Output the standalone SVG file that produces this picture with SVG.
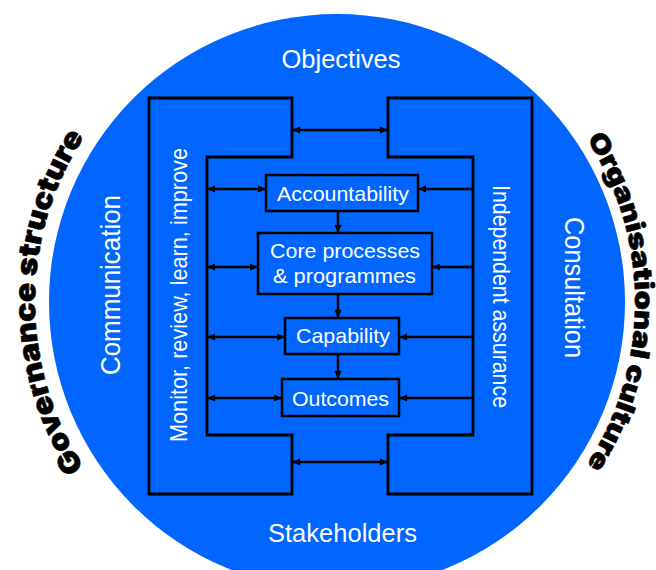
<svg xmlns="http://www.w3.org/2000/svg" width="656" height="570" viewBox="0 0 656 570">
<style>
.lbl{font-family:"Liberation Sans",Arial,sans-serif;fill:#ffffff;}
.box{fill:#0066ff;stroke:#000;stroke-width:2.5;}
.frame{fill:none;stroke:#000;stroke-width:2.8;stroke-linejoin:miter;}
.con{fill:none;stroke:#000;stroke-width:2.5;}
.arc{font-family:"Inter","Lato","Liberation Sans",sans-serif;font-weight:900;font-size:29px;fill:#000;stroke:#000;stroke-width:0.6;}
</style>
<defs>
<marker id="ah" viewBox="0 0 10 10" refX="10" refY="5" markerWidth="9" markerHeight="8" markerUnits="userSpaceOnUse" orient="auto-start-reverse">
<path d="M0,0.5 L10,5 L0,9.5 z" fill="#000"/>
</marker>
<path id="arcL" d="M186 563.5 A302 302 0 0 1 186 40.5"/>
<path id="arcR" d="M486 43.9 A298 298 0 0 1 486 560.1"/>
</defs>
<g id="background">
<circle cx="337" cy="302" r="288" fill="#0066ff"/>
</g>
<g id="governance-structure">
<text class="arc"><textPath href="#arcL" startOffset="50%" text-anchor="middle" textLength="350" lengthAdjust="spacingAndGlyphs">Governance structure</textPath></text>
</g>
<g id="organisational-culture">
<text class="arc" font-size="26" style="font-size:26px"><textPath href="#arcR" startOffset="50%" text-anchor="middle" textLength="345" lengthAdjust="spacingAndGlyphs">Organisational culture</textPath></text>
</g>
<g id="frame">
<path class="frame" d="M292 98 H149 V494 H292 V435 H207 V157 H292 Z"/>
<path class="frame" d="M388 98 H532 V494 H388 V435 H473 V157 H388 Z"/>
</g>
<g id="objectives">
<text class="lbl" x="341" y="68" font-size="25" text-anchor="middle" textLength="119" lengthAdjust="spacingAndGlyphs">Objectives</text>
</g>
<g id="stakeholders">
<text class="lbl" x="342.5" y="542" font-size="25" text-anchor="middle" textLength="149" lengthAdjust="spacingAndGlyphs">Stakeholders</text>
</g>
<g id="communication">
<text class="lbl" transform="translate(120,285) rotate(-90)" x="0" y="0" font-size="28" text-anchor="middle" textLength="180" lengthAdjust="spacingAndGlyphs">Communication</text>
</g>
<g id="monitor">
<text class="lbl" transform="translate(187,295) rotate(-90)" x="0" y="0" font-size="24" text-anchor="middle" textLength="294" lengthAdjust="spacingAndGlyphs">Monitor, review, learn, improve</text>
</g>
<g id="independent-assurance">
<text class="lbl" transform="translate(493,296.5) rotate(90)" x="0" y="0" font-size="24" text-anchor="middle" textLength="223" lengthAdjust="spacingAndGlyphs">Independent assurance</text>
</g>
<g id="consultation">
<text class="lbl" transform="translate(565,287.5) rotate(90)" x="0" y="0" font-size="28" text-anchor="middle" textLength="141" lengthAdjust="spacingAndGlyphs">Consultation</text>
</g>
<g id="accountability">
<rect class="box" x="266" y="175" width="152" height="36"/>
<text class="lbl" x="343" y="201" font-size="21" text-anchor="middle" textLength="132" lengthAdjust="spacingAndGlyphs">Accountability</text>
</g>
<g id="core-processes">
<rect class="box" x="258" y="233" width="174" height="61"/>
<text class="lbl" x="345" y="258" font-size="21" text-anchor="middle" textLength="150" lengthAdjust="spacingAndGlyphs">Core processes</text>
<text class="lbl" x="344.5" y="283" font-size="21" text-anchor="middle" textLength="143" lengthAdjust="spacingAndGlyphs">&amp; programmes</text>
</g>
<g id="capability">
<rect class="box" x="285" y="318" width="114" height="36"/>
<text class="lbl" x="343" y="343" font-size="21" text-anchor="middle" textLength="94" lengthAdjust="spacingAndGlyphs">Capability</text>
</g>
<g id="outcomes">
<rect class="box" x="282" y="379" width="117" height="37"/>
<text class="lbl" x="340.5" y="405.5" font-size="21" text-anchor="middle" textLength="97" lengthAdjust="spacingAndGlyphs">Outcomes</text>
</g>
<g id="connectors">
<line class="con" x1="292" y1="130" x2="388" y2="130" marker-start="url(#ah)" marker-end="url(#ah)"/>
<line class="con" x1="292" y1="462" x2="388" y2="462" marker-start="url(#ah)" marker-end="url(#ah)"/>
<line class="con" x1="207" y1="189" x2="266" y2="189" marker-start="url(#ah)" marker-end="url(#ah)"/>
<line class="con" x1="473" y1="189" x2="418" y2="189" marker-end="url(#ah)"/>
<line class="con" x1="207" y1="267" x2="258" y2="267" marker-start="url(#ah)" marker-end="url(#ah)"/>
<line class="con" x1="473" y1="267" x2="432" y2="267" marker-end="url(#ah)"/>
<line class="con" x1="207" y1="337" x2="285" y2="337" marker-start="url(#ah)" marker-end="url(#ah)"/>
<line class="con" x1="473" y1="337" x2="399" y2="337" marker-end="url(#ah)"/>
<line class="con" x1="207" y1="398" x2="282" y2="398" marker-start="url(#ah)" marker-end="url(#ah)"/>
<line class="con" x1="473" y1="398" x2="399" y2="398" marker-end="url(#ah)"/>
<line class="con" x1="338" y1="211" x2="338" y2="233" marker-end="url(#ah)"/>
<line class="con" x1="338" y1="294" x2="338" y2="318" marker-end="url(#ah)"/>
<line class="con" x1="338" y1="354" x2="338" y2="379" marker-end="url(#ah)"/>
</g>
</svg>
